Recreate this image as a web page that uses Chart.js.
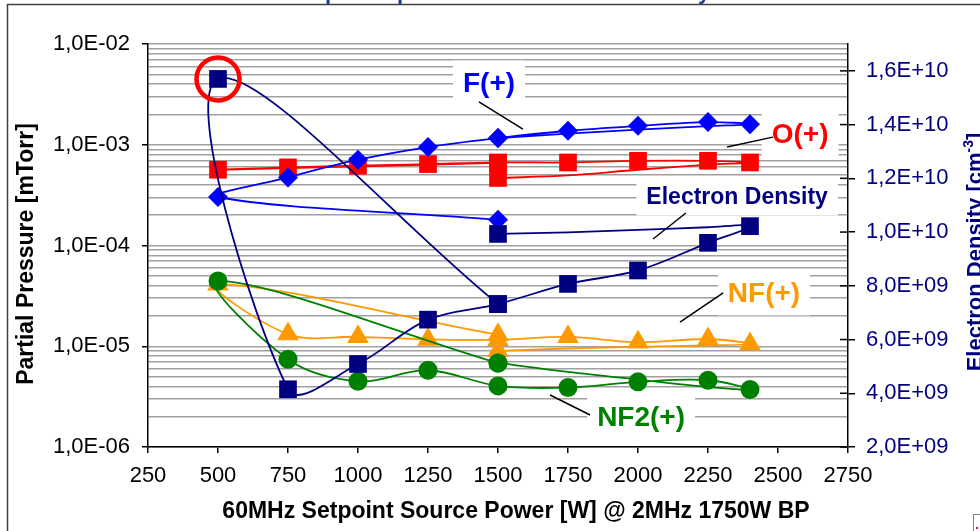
<!DOCTYPE html>
<html>
<head>
<meta charset="utf-8">
<script src="https://cdn.jsdelivr.net/npm/chart.js@4.4.1/dist/chart.umd.min.js"></script>
<style>
  html, body { margin: 0; padding: 0; background: #fff; }
  #wrap { width: 980px; height: 531px; }
</style>
</head>
<body>
<div id="wrap"><canvas id="myChart" width="980" height="531"></canvas></div>
<script>
// measurement order: start point, ramp up 500 -> 2400 W, ramp back down to 1500 W
const sweepPower = [1500, 500, 750, 1000, 1250, 1500, 1750, 2000, 2250, 2400, 2250, 2000, 1750, 1500];

const electronDensity = [7.32e9, 1.57e10, 4.15e9, 5.09e9, 6.74e9, 7.32e9, 8.07e9, 8.57e9, 9.6e9, 1.022e10, 1.018e10, 1.008e10, 9.99e9, 9.93e9];
const fPlus   = [1.80e-4, 3.03e-4, 4.74e-4, 7.1e-4, 9.49e-4, 1.165e-3, 1.377e-3, 1.54e-3, 1.68e-3, 1.60e-3, 1.53e-3, 1.41e-3, 1.29e-3, 1.165e-3];
const oPlus   = [6.6e-4, 5.65e-4, 5.96e-4, 6.19e-4, 6.43e-4, 6.67e-4, 6.67e-4, 6.93e-4, 6.93e-4, 6.67e-4, 6.34e-4, 5.65e-4, 4.96e-4, 4.68e-4];
const nfPlus  = [1.30e-5, 4.12e-5, 1.32e-5, 1.24e-5, 1.17e-5, 1.16e-5, 1.24e-5, 1.095e-5, 1.18e-5, 1.05e-5, 1.02e-5, 9.85e-6, 9.5e-6, 9.0e-6];
const nf2Plus = [6.8e-6, 4.45e-5, 7.43e-6, 4.5e-6, 5.78e-6, 4.04e-6, 3.89e-6, 4.43e-6, 4.6e-6, 3.72e-6, 3.95e-6, 4.67e-6, 5.56e-6, 6.83e-6];

const xTicks = [250, 500, 750, 1000, 1250, 1500, 1750, 2000, 2250, 2500, 2750];
const leftTickLabels = ['1,0E-06', '1,0E-05', '1,0E-04', '1,0E-03', '1,0E-02'];
const rightTicks = [2e9, 4e9, 6e9, 8e9, 1e10, 1.2e10, 1.4e10, 1.6e10];
const rightTickLabels = ['2,0E+09', '4,0E+09', '6,0E+09', '8,0E+09', '1,0E+10', '1,2E+10', '1,4E+10', '1,6E+10'];

const FONT = '"Liberation Sans", Arial, sans-serif';

function sweep(values) {
  return sweepPower.map((p, i) => ({ x: p, y: values[i] }));
}

// ramp-down points carry no marker except the last one
function markers(r) {
  return sweepPower.map((_, i) => (i >= 10 && i <= 12) ? 0 : r);
}

function series(label, values, color, style, r, axis) {
  return {
    label: label,
    data: sweep(values),
    yAxisID: axis,
    borderColor: color,
    backgroundColor: color,
    borderWidth: 1.8,
    pointStyle: style,
    pointRadius: markers(r),
    pointBorderWidth: 0,
    tension: 0.35,
    fill: false
  };
}

const callouts = [
  { text: 'F(+)', color: '#0000FF', size: 28, at: [1468, 4.1e-3], line: [[1432, 2.66e-3], [1589, 1.43e-3]] },
  { text: 'O(+)', color: '#FF0000', size: 28, at: [2579, 1.28e-3], line: [[2318, 9.5e-4], [2482, 1.19e-3]] },
  { text: 'Electron Density', color: '#000080', size: 23, at: [2354, 3.03e-4], line: [[2171, 2.10e-4], [2054, 1.16e-4]] },
  { text: 'NF(+)', color: '#FF9900', size: 28, at: [2450, 3.38e-5], line: [[2304, 3.38e-5], [2150, 1.74e-5]] },
  { text: 'NF2(+)', color: '#008000', size: 28, at: [2011, 1.99e-6], line: [[1686, 3.28e-6], [1829, 2.08e-6]] }
];

const overlay = {
  id: 'overlay',
  beforeDraw(chart) {
    const ctx = chart.ctx;
    ctx.save();
    ctx.fillStyle = '#fff';
    ctx.fillRect(0, 0, chart.width, chart.height);
    ctx.restore();
  },
  beforeDatasetsDraw(chart) {
    const ctx = chart.ctx;
    const xs = chart.scales.x, ys = chart.scales.y;
    ctx.save();
    callouts.forEach(c => {
      const cx = xs.getPixelForValue(c.at[0]);
      const cy = ys.getPixelForValue(c.at[1]);
      ctx.font = 'bold ' + c.size + 'px ' + FONT;
      const w = ctx.measureText(c.text).width;
      const h = c.size * 1.6;
      ctx.fillStyle = '#fff';
      ctx.fillRect(cx - w / 2 - 10, cy - h / 2, w + 20, h);
      ctx.strokeStyle = '#000';
      ctx.lineWidth = 1.5;
      ctx.beginPath();
      ctx.moveTo(xs.getPixelForValue(c.line[0][0]), ys.getPixelForValue(c.line[0][1]));
      ctx.lineTo(xs.getPixelForValue(c.line[1][0]), ys.getPixelForValue(c.line[1][1]));
      ctx.stroke();
      ctx.fillStyle = c.color;
      ctx.textAlign = 'center';
      ctx.textBaseline = 'middle';
      ctx.fillText(c.text, cx, cy + 1);
    });
    ctx.restore();
  },
  afterDatasetsDraw(chart) {
    const ctx = chart.ctx;
    ctx.save();
    // circle around the first electron density point
    const p = chart.getDatasetMeta(0).data[1];
    ctx.strokeStyle = '#FF0000';
    ctx.lineWidth = 4.5;
    ctx.beginPath();
    ctx.arc(p.x, p.y, 21.5, 0, Math.PI * 2);
    ctx.stroke();
    // right axis tick marks also reach inside
    const y2 = chart.scales.y2;
    ctx.strokeStyle = '#000';
    ctx.lineWidth = 1.5;
    rightTicks.forEach(v => {
      const y = y2.getPixelForValue(v);
      ctx.beginPath();
      ctx.moveTo(y2.left - 8, y);
      ctx.lineTo(y2.left, y);
      ctx.stroke();
    });
    ctx.restore();
  },
  afterDraw(chart) {
    const ctx = chart.ctx;
    const area = chart.chartArea;
    ctx.save();
    // titles
    ctx.fillStyle = '#000';
    ctx.font = 'bold 23px ' + FONT;
    ctx.textAlign = 'center';
    ctx.textBaseline = 'middle';
    ctx.fillText('60MHz Setpoint Source Power [W] @ 2MHz 1750W BP', 516, 512);

    ctx.save();
    ctx.translate(27, 254);
    ctx.rotate(-Math.PI / 2);
    ctx.fillText('Partial Pressure [mTorr]', 0, 0);
    ctx.restore();

    // right axis title, partly cut by the frame
    ctx.save();
    ctx.translate(982, 252);
    ctx.rotate(-Math.PI / 2);
    ctx.fillStyle = '#000080';
    ctx.textBaseline = 'alphabetic';
    ctx.textAlign = 'left';
    const a = 'Electron Density [cm', sup = '-3', b = ']';
    ctx.font = 'bold 22px ' + FONT;
    const wa = ctx.measureText(a).width, wb = ctx.measureText(b).width;
    ctx.font = 'bold 14px ' + FONT;
    const ws = ctx.measureText(sup).width;
    let x0 = -(wa + ws + wb) / 2;
    ctx.font = 'bold 22px ' + FONT;
    ctx.fillText(a, x0, 0);
    ctx.font = 'bold 14px ' + FONT;
    ctx.fillText(sup, x0 + wa, -9);
    ctx.font = 'bold 22px ' + FONT;
    ctx.fillText(b, x0 + wa + ws, 0);
    ctx.restore();

    // chart title, cut off at the top edge
    ctx.fillStyle = '#233D94';
    ctx.font = 'bold 22px ' + FONT;
    ctx.textBaseline = 'alphabetic';
    ctx.textAlign = 'center';
    ctx.fillText('Ion partial pressure and electron density', (area.left + area.right) / 2, -1);

    // outer frame
    ctx.strokeStyle = '#404040';
    ctx.lineWidth = 1.5;
    ctx.strokeRect(7.5, 4.5, 1000, 600);

    // small placeholder icon bottom right
    ctx.strokeStyle = '#808080';
    ctx.lineWidth = 1;
    ctx.strokeRect(973.5, 514.5, 10, 20);
    ctx.fillStyle = '#FF0000';
    ctx.fillRect(976, 527, 2, 2);
    ctx.restore();
  }
};

const ctx = document.getElementById('myChart').getContext('2d');
const chart = new Chart(ctx, {
  type: 'line',
  data: {
    datasets: [
      series('Electron Density', electronDensity, '#000080', 'rect', 12.5, 'y2'),
      series('F(+)', fPlus, '#0000FF', 'rectRot', 10, 'y'),
      series('O(+)', oPlus, '#FF0000', 'rect', 12.5, 'y'),
      series('NF2(+)', nf2Plus, '#008000', 'circle', 9.5, 'y'),
      series('NF(+)', nfPlus, '#FF9900', 'triangle', 12.5, 'y')
    ]
  },
  options: {
    responsive: false,
    devicePixelRatio: 1,
    animation: false,
    layout: { padding: { top: 44, left: 0, right: 0, bottom: 0 } },
    plugins: {
      legend: { display: false },
      tooltip: { enabled: false },
      title: { display: false }
    },
    scales: {
      x: {
        type: 'linear',
        min: 250,
        max: 2750,
        afterBuildTicks: s => { s.ticks = xTicks.map(v => ({ value: v })); },
        afterFit: s => { s.height = 84; },
        ticks: {
          autoSkip: false,
          maxRotation: 0,
          padding: 10,
          color: '#000',
          font: { size: 22, family: FONT },
          callback: v => String(v)
        },
        grid: { drawOnChartArea: false, tickLength: 6, color: '#000', lineWidth: 1.5 },
        border: { color: '#000', width: 1.5 }
      },
      y: {
        type: 'logarithmic',
        position: 'left',
        min: 1e-6,
        max: 1e-2,
        afterBuildTicks: s => {
          const t = [];
          for (let e = -6; e <= -2; e++) {
            for (let m = 1; m <= 9; m++) {
              if (e === -2 && m > 1) break;
              t.push({ value: m * Math.pow(10, e), major: m === 1 });
            }
          }
          s.ticks = t;
        },
        afterFit: s => { s.width = 148; },
        ticks: {
          autoSkip: false,
          padding: 12,
          color: '#000',
          font: { size: 22, family: FONT },
          callback: v => {
            const e = Math.log10(v);
            if (Math.abs(e - Math.round(e)) > 1e-6) return '';
            return leftTickLabels[Math.round(e) + 6];
          }
        },
        grid: {
          color: '#A0A0A0',
          lineWidth: 1.5,
          tickLength: 6,
          tickColor: c => (c.tick && c.tick.major) ? '#000' : 'rgba(0,0,0,0)'
        },
        border: { color: '#000', width: 1.5 }
      },
      y2: {
        type: 'linear',
        position: 'right',
        min: 2e9,
        max: 1.7e10,
        afterBuildTicks: s => { s.ticks = rightTicks.map(v => ({ value: v })); },
        afterFit: s => { s.width = 132; },
        ticks: {
          autoSkip: false,
          padding: 11,
          color: '#000080',
          font: { size: 22, family: FONT },
          callback: (v, i) => rightTickLabels[i]
        },
        grid: { drawOnChartArea: false, tickLength: 7, color: '#000', lineWidth: 1.5 },
        border: { color: '#000', width: 1.5 }
      }
    }
  },
  plugins: [overlay]
});
</script>
</body>
</html>
